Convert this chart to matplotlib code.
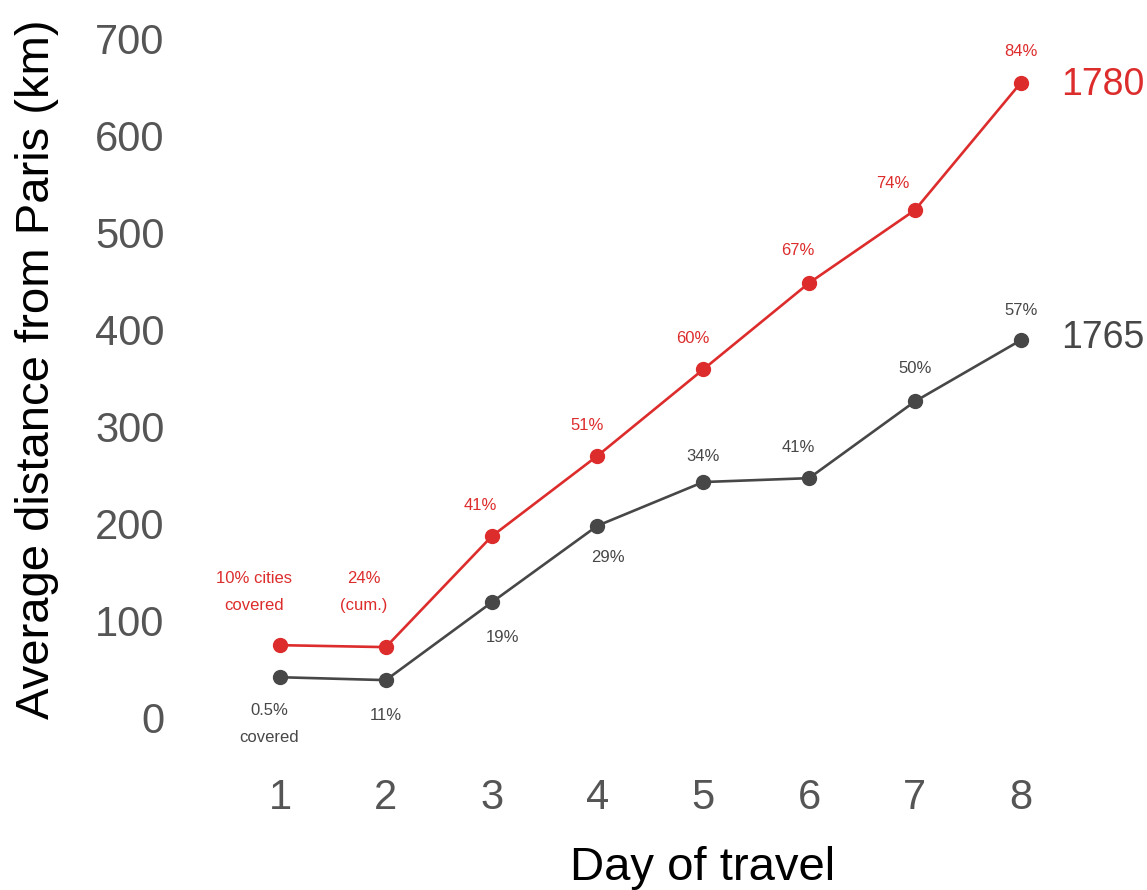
import numpy as np
import matplotlib.pyplot as plt

plt.rcParams['font.family'] = ['Liberation Sans', 'DejaVu Sans']

# data
days = [1, 2, 3, 4, 5, 6, 7, 8]
dist_1780 = [75, 73, 187, 270, 359, 448, 523, 654]
dist_1765 = [42, 39, 119, 198, 243, 247, 326, 389]
labels_1780 = ['10% cities\ncovered', '24%\n(cum.)', '41%', '51%', '60%', '67%', '74%', '84%']
labels_1765 = ['0.5%\ncovered', '11%', '19%', '29%', '34%', '41%', '50%', '57%']

# label nudges in pixels (dx, dy) relative to each point
nudge_1780 = [(-26, 53), (-22, 55), (-11, 31), (-10, 30), (-10, 31), (-11, 32), (-22, 27), (0, 31)]
nudge_1765 = [(-11, -47), (0, -35), (11, -35), (10, -32), (0, 26), (-11, 31), (0, 33), (0, 30)]

red = '#dd2c2c'
grey = '#474747'
tick_grey = '#555555'

fig = plt.figure(figsize=(11.47, 8.9), dpi=100)
ax = fig.add_axes([0.198, 0.1278, 0.738, 0.851])

ax.plot(days, dist_1780, color=red, lw=1.9, marker='o', ms=10, zorder=3)
ax.plot(days, dist_1765, color=grey, lw=1.9, marker='o', ms=10, zorder=3)

def put_label(x, y, txt, color, nudge):
    ax.annotate(txt, (x, y), xytext=nudge, textcoords='offset pixels',
                ha='center', va='center', fontsize=12, color=color,
                linespacing=2.0)

for d, v, t, n in zip(days, dist_1780, labels_1780, nudge_1780):
    put_label(d, v, t, red, n)
for d, v, t, n in zip(days, dist_1765, labels_1765, nudge_1765):
    put_label(d, v, t, grey, n)

# series names at the end of the lines
ax.annotate('1780', (days[-1], dist_1780[-1]), xytext=(40, -2), textcoords='offset pixels',
            ha='left', va='center', fontsize=27, color=red)
ax.annotate('1765', (days[-1], dist_1765[-1]), xytext=(40, 2), textcoords='offset pixels',
            ha='left', va='center', fontsize=27, color=grey)

ax.set_xlim(0.5, 8.5)
ax.set_ylim(-60, 720)
ax.set_xticks(days)
ax.set_yticks(np.arange(0, 701, 100))
ax.tick_params(length=0, labelsize=30, colors=tick_grey)
ax.tick_params(axis='y', pad=45)
ax.tick_params(axis='x', pad=1)
for sp in ax.spines.values():
    sp.set_visible(False)

ax.set_xlabel('Day of travel', fontsize=34, color='black')
ax.set_ylabel('Average distance from Paris (km)', fontsize=34, color='black')
ax.xaxis.set_label_coords(0.562, -0.092)
ax.yaxis.set_label_coords(-0.199, 0.538)

fig.savefig('out.png', dpi=100)
